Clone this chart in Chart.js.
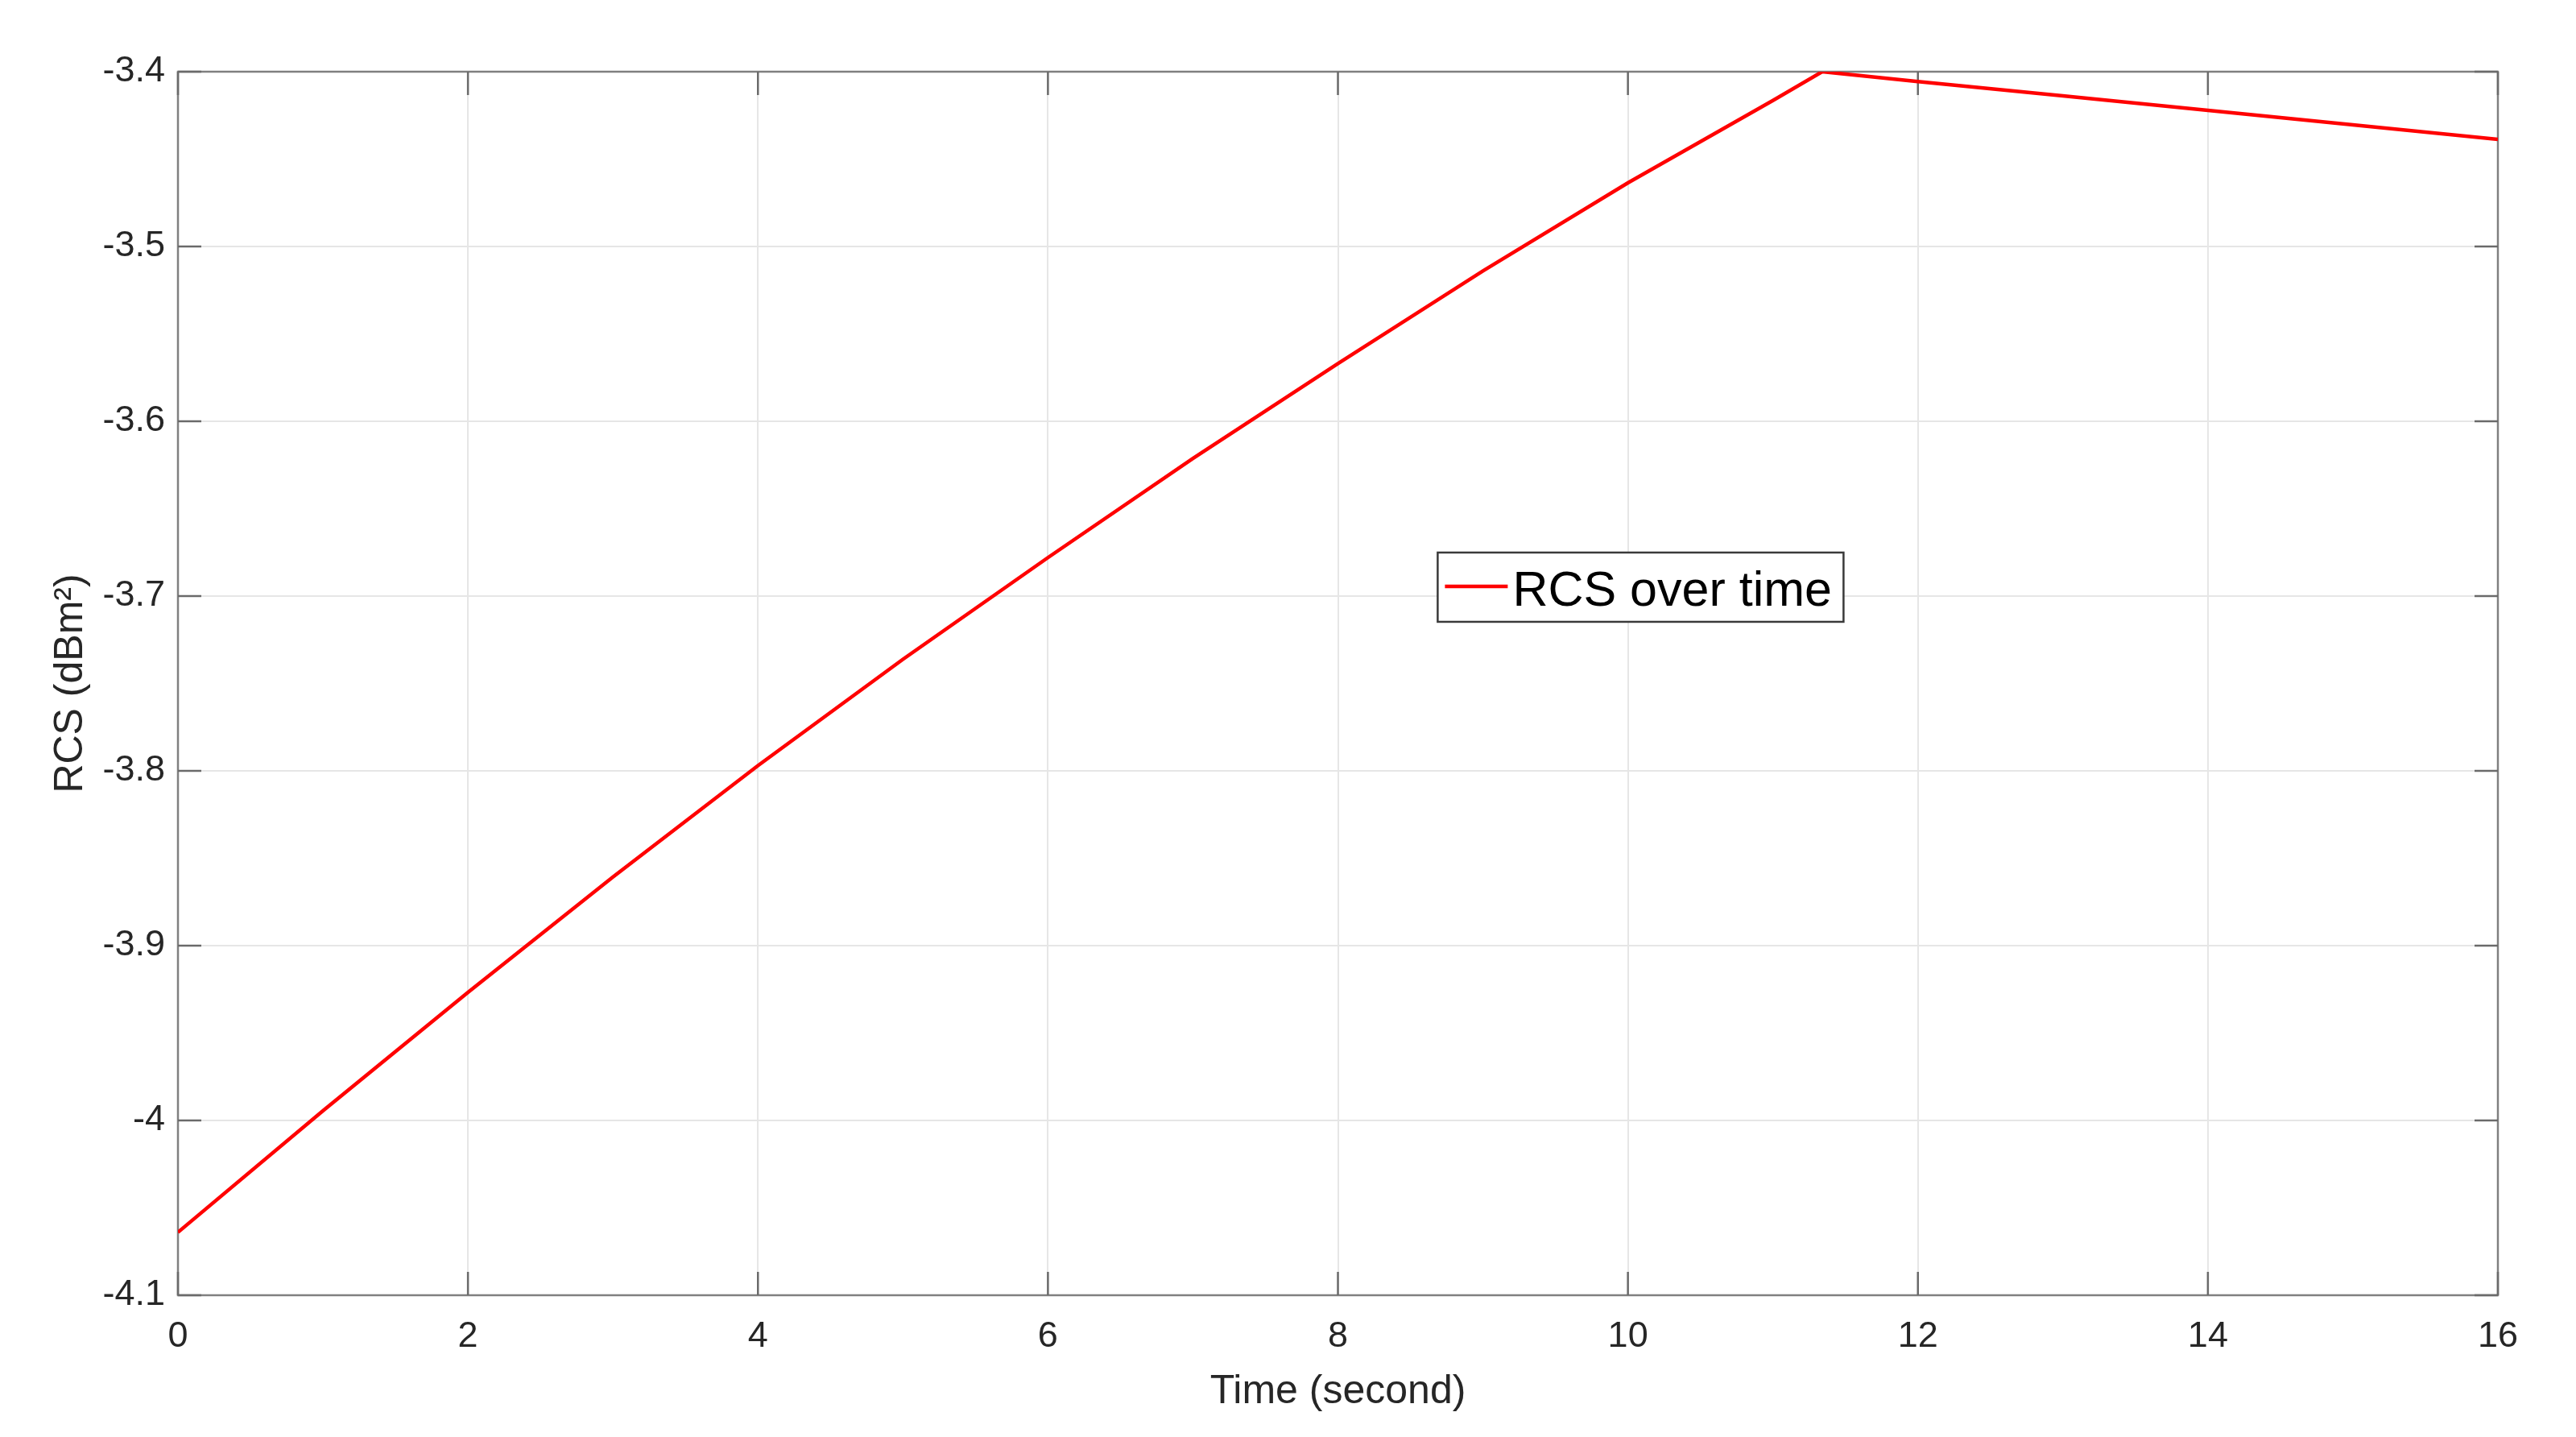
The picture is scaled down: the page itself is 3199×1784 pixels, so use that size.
<!DOCTYPE html>
<html>
<head>
<meta charset="utf-8">
<script src="https://cdn.jsdelivr.net/npm/chart.js@4"></script>
<style>
  html, body { margin: 0; padding: 0; background: #ffffff; }
  #wrap { width: 3199px; height: 1784px; }
</style>
</head>
<body>
<div id="wrap"><canvas id="c" width="3199" height="1784"></canvas></div>
<script>
// ---- data ----
const timeSeconds = [0, 1, 2, 3, 4, 5, 6, 7, 8, 9, 10, 11, 11.34, 12, 13, 14, 15, 16];
const rcsValues   = [-4.064, -3.9945, -3.9267, -3.8607, -3.797, -3.7362, -3.678, -3.6213, -3.567, -3.514, -3.4636, -3.4165, -3.400, -3.4056, -3.4138, -3.4221, -3.4304, -3.4387];
const xTickValues = [0, 2, 4, 6, 8, 10, 12, 14, 16];
const yTickValues = [-4.1, -4.0, -3.9, -3.8, -3.7, -3.6, -3.5, -3.4];
const seriesLabel = 'RCS over time';
const xTitle = 'Time (second)';
const yTitle = 'RCS (dBm\u00B2)';

const FONT = "'Liberation Sans', Arial, Helvetica, sans-serif";
const TXT = '#262626';

const framePlugin = {
  id: 'frame',
  beforeDatasetsDraw(chart) {
    const { ctx, chartArea: a, scales: { x, y } } = chart;
    ctx.save();
    ctx.strokeStyle = '#808080';
    ctx.lineWidth = 2.5;
    ctx.strokeRect(a.left, a.top, a.right - a.left, a.bottom - a.top);
    ctx.strokeStyle = '#6a6a6a';
    ctx.lineWidth = 2.5;
    const L = 29;
    const seg = (x1, y1, x2, y2) => { ctx.beginPath(); ctx.moveTo(x1, y1); ctx.lineTo(x2, y2); ctx.stroke(); };
    y.ticks.forEach(t => {
      const py = y.getPixelForValue(t.value);
      seg(a.left, py, a.left + L, py);
      seg(a.right, py, a.right - L, py);
    });
    x.ticks.forEach(t => {
      const px = x.getPixelForValue(t.value);
      seg(px, a.bottom, px, a.bottom - L);
      seg(px, a.top, px, a.top + L);
    });
    ctx.restore();
  },
  afterDraw(chart) {
    const { ctx, chartArea: a } = chart;
    const w = a.right - a.left, h = a.bottom - a.top;
    const bx = a.left + 0.543 * w, by = a.top + 0.393 * h;
    const bw = 504, bh = 86;
    ctx.save();
    ctx.fillStyle = '#ffffff';
    ctx.fillRect(bx, by, bw, bh);
    ctx.strokeStyle = '#3a3a3a';
    ctx.lineWidth = 2.5;
    ctx.strokeRect(bx, by, bw, bh);
    const ds = chart.data.datasets[0];
    ctx.strokeStyle = ds.borderColor;
    ctx.lineWidth = 4.5;
    ctx.beginPath();
    ctx.moveTo(bx + 9, by + 42);
    ctx.lineTo(bx + 87, by + 42);
    ctx.stroke();
    ctx.fillStyle = '#000000';
    ctx.font = "61px " + FONT;
    ctx.textBaseline = 'alphabetic';
    ctx.textAlign = 'left';
    ctx.fillText(ds.label, bx + 93, by + 66);
    ctx.restore();
  }
};

const points = timeSeconds.map((t, i) => ({ x: t, y: rcsValues[i] }));

new Chart(document.getElementById('c'), {
  type: 'line',
  data: {
    datasets: [{
      label: seriesLabel,
      data: points,
      borderColor: '#ff0000',
      backgroundColor: '#ff0000',
      borderWidth: 4.5,
      pointRadius: 0,
      tension: 0,
      fill: false
    }]
  },
  options: {
    responsive: false,
    animation: false,
    devicePixelRatio: 1,
    layout: { padding: { top: 89, right: 97, left: 0, bottom: 0 } },
    plugins: { legend: { display: false }, tooltip: { enabled: false } },
    scales: {
      x: {
        type: 'linear',
        position: 'bottom',
        min: 0, max: 16,
        afterBuildTicks: s => { s.ticks = xTickValues.map(v => ({ value: v })); },
        afterFit: s => { s.height = 176; },
        grid: { color: '#e6e6e6', lineWidth: 2, drawTicks: false },
        border: { display: false },
        ticks: {
          padding: 25, color: TXT, maxRotation: 0, autoSkip: false,
          font: { family: FONT, size: 45 },
          callback: v => String(Number(Number(v).toFixed(2)))
        },
        title: {
          display: true, text: xTitle, color: TXT,
          font: { family: FONT, size: 50 },
          padding: { top: 0, bottom: 26 }
        }
      },
      y: {
        type: 'linear',
        position: 'left',
        min: -4.1, max: -3.4,
        afterBuildTicks: s => { s.ticks = yTickValues.map(v => ({ value: v })); },
        afterFit: s => { s.width = 221; },
        grid: { color: '#e6e6e6', lineWidth: 2, drawTicks: false },
        border: { display: false },
        ticks: {
          padding: 16, color: TXT, autoSkip: false,
          font: { family: FONT, size: 45 },
          callback: v => String(Number(Number(v).toFixed(2)))
        },
        title: {
          display: true, text: yTitle, color: TXT,
          font: { family: FONT, size: 50 },
          padding: { top: 58, bottom: 0 }
        }
      }
    }
  },
  plugins: [framePlugin]
});
</script>
</body>
</html>
